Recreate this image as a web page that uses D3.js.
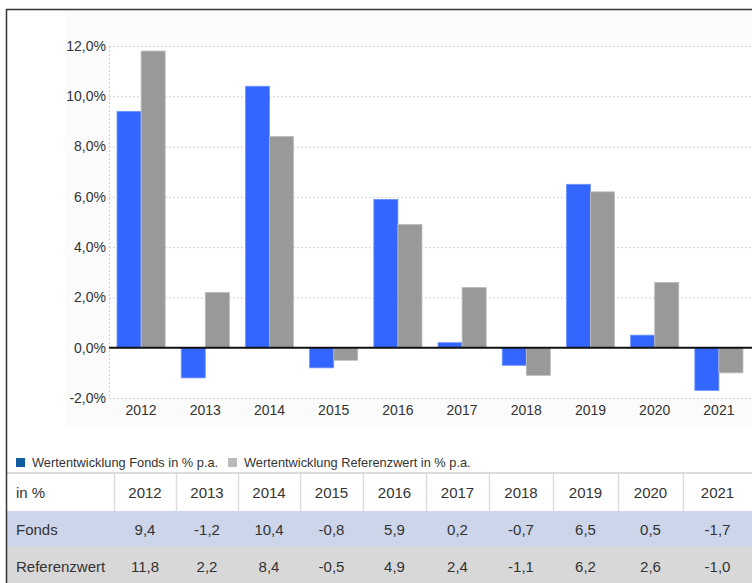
<!DOCTYPE html>
<html lang="de">
<head>
<meta charset="UTF-8">
<title>Wertentwicklung</title>
<script src="https://d3js.org/d3.v7.min.js"></script>
<style>
  html, body { margin: 0; padding: 0; background: #fff; }
  svg { display: block; font-family: "Liberation Sans", Arial, sans-serif; }
</style>
</head>
<body>
<div id="chart"></div>
<script>
const years = ["2012", "2013", "2014", "2015", "2016", "2017", "2018", "2019", "2020", "2021"];
const fonds = [9.4, -1.2, 10.4, -0.8, 5.9, 0.2, -0.7, 6.5, 0.5, -1.7];
const referenz = [11.8, 2.2, 8.4, -0.5, 4.9, 2.4, -1.1, 6.2, 2.6, -1.0];
const yTicks = [-2, 0, 2, 4, 6, 8, 10, 12];
const seriesNames = ["Wertentwicklung Fonds in % p.a.", "Wertentwicklung Referenzwert in % p.a."];
const rowLabels = ["Fonds", "Referenzwert"];

const W = 752, H = 583;
const svg = d3.select("#chart").append("svg").attr("width", W).attr("height", H);

const x = d3.scaleBand().domain(years).range([109, 751]).paddingInner(0.25).paddingOuter(0.125);
const x1 = d3.scaleBand().domain(["f", "r"]).range([0, x.bandwidth()]);
const y = d3.scaleLinear().domain([-2, 12]).range([398, 46]);

// chart panel background, plot area white
svg.append("rect").attr("x", 65).attr("y", 10).attr("width", W - 65).attr("height", 416).attr("fill", "#fbfbfb");
svg.append("rect").attr("x", 109).attr("y", y(12)).attr("width", W - 109).attr("height", y(-2) - y(12)).attr("fill", "#fff");

// grid
svg.append("g").selectAll("line").data(yTicks.filter(d => d !== 0)).join("line")
  .attr("x1", 109).attr("x2", W).attr("y1", d => y(d) + 0.5).attr("y2", d => y(d) + 0.5)
  .attr("stroke", "#cfcfcf").attr("stroke-dasharray", "2,2");
svg.append("line").attr("x1", 109.5).attr("x2", 109.5).attr("y1", y(12)).attr("y2", y(-2))
  .attr("stroke", "#cfcfcf").attr("stroke-dasharray", "2,2");

// y axis labels
const fmt = d => d.toFixed(1).replace(".", ",") + "%";
svg.append("g").selectAll("text").data(yTicks).join("text")
  .attr("x", 106).attr("y", d => y(d)).attr("dy", "0.35em")
  .attr("text-anchor", "end").attr("font-size", 14).attr("fill", "#333")
  .text(fmt);

// bars
const data = years.map((yr, i) => ({ yr, f: fonds[i], r: referenz[i] }));
const g = svg.append("g").selectAll("g").data(data).join("g")
  .attr("transform", d => `translate(${x(d.yr)},0)`);
g.append("rect")
  .attr("x", x1("f")).attr("width", x1.bandwidth())
  .attr("y", d => y(Math.max(0, d.f))).attr("height", d => Math.abs(y(d.f) - y(0)))
  .attr("fill", "#3366ff").attr("stroke", "#6f94ff").attr("stroke-width", 0.8);
g.append("rect")
  .attr("x", x1("r")).attr("width", x1.bandwidth())
  .attr("y", d => y(Math.max(0, d.r))).attr("height", d => Math.abs(y(d.r) - y(0)))
  .attr("fill", "#999999").attr("stroke", "#bdbdbd").attr("stroke-width", 0.8);

// zero line
svg.append("line").attr("x1", 109).attr("x2", W).attr("y1", y(0)).attr("y2", y(0))
  .attr("stroke", "#111").attr("stroke-width", 2);

// x labels
svg.append("g").selectAll("text").data(years).join("text")
  .attr("x", d => x(d) + x.bandwidth() / 2).attr("y", 415)
  .attr("text-anchor", "middle").attr("font-size", 14).attr("fill", "#333")
  .text(d => d);

// legend
const legendColors = ["#115b9f", "#bbbbbb"];
const legendX = [16, 228];
seriesNames.forEach((name, i) => {
  svg.append("rect").attr("x", legendX[i]).attr("y", 458).attr("width", 9).attr("height", 9).attr("fill", legendColors[i]);
  svg.append("text").attr("x", legendX[i] + 16).attr("y", 467).attr("font-size", 12.8).attr("fill", "#333").text(name);
});

// table
const colEdges = [7, 114, 176, 238, 300, 363, 426, 489, 553, 618, 683, W];
const rowTops = [474, 511, 547, H];
const rowFills = ["#ffffff", "#ccd5ea", "#d8d8d8"];
rowFills.forEach((c, i) => {
  svg.append("rect").attr("x", 7).attr("y", rowTops[i]).attr("width", W - 7).attr("height", rowTops[i + 1] - rowTops[i]).attr("fill", c);
});
svg.append("line").attr("x1", 7).attr("x2", W).attr("y1", 473).attr("y2", 473).attr("stroke", "#dcdcdc").attr("stroke-width", 2);
colEdges.slice(1, -1).forEach(cx => {
  svg.append("line").attr("x1", cx + 0.5).attr("x2", cx + 0.5).attr("y1", 474).attr("y2", 511).attr("stroke", "#dcdcdc").attr("stroke-width", 1.5);
});
const rows = [
  ["in %"].concat(years),
  [rowLabels[0]].concat(fonds.map(v => v.toFixed(1).replace(".", ","))),
  [rowLabels[1]].concat(referenz.map(v => v.toFixed(1).replace(".", ",")))
];
const baselines = [498, 535, 572];
rows.forEach((row, ri) => {
  row.forEach((cell, ci) => {
    const t = svg.append("text").attr("y", baselines[ri]).attr("font-size", 15).attr("fill", "#333").text(cell);
    if (ci === 0) t.attr("x", 16);
    else t.attr("x", (colEdges[ci] + colEdges[ci + 1]) / 2).attr("text-anchor", "middle");
  });
});

// outer frame (top and left)
svg.append("line").attr("x1", 6).attr("x2", W).attr("y1", 9.5).attr("y2", 9.5).attr("stroke", "#333").attr("stroke-width", 1.5);
svg.append("line").attr("x1", 6.5).attr("x2", 6.5).attr("y1", 9).attr("y2", H).attr("stroke", "#333").attr("stroke-width", 1.5);
</script>
</body>
</html>
